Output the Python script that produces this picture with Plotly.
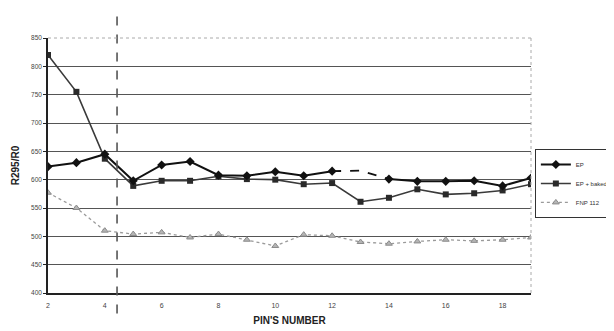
import plotly.graph_objects as go

pins = list(range(2, 20))
ep = [623, 630, 645, 598, 626, 632, 608, 607, 614, 607, 615, 616, 601, 597, 597, 598, 589, 603]
ep_baked = [820, 755, 637, 589, 598, 598, 606, 601, 600, 592, 594, 561, 568, 583, 574, 576, 581, 592]
fnp112 = [577, 550, 510, 504, 507, 498, 504, 494, 483, 503, 501, 490, 487, 491, 494, 492, 494, 498]
x_ticks = [2, 4, 6, 8, 10, 12, 14, 16, 18]
y_ticks = [400, 450, 500, 550, 600, 650, 700, 750, 800, 850]
divider_pin = 4.43

font = "Liberation Sans, Arial, sans-serif"

ep_solid = [v if p != 13 else None for p, v in zip(pins, ep)]
gap_idx = [i for i, p in enumerate(pins) if p in (12, 13, 14)]

fig = go.Figure()
fig.add_trace(go.Scatter(
    x=pins, y=fnp112, name="FNP 112", mode="lines+markers",
    line=dict(color="#9a9a9a", width=1.3, dash="dot"),
    marker=dict(symbol="triangle-up", size=6, color="#b5b5b5", line=dict(color="#8a8a8a", width=1)),
    legendrank=3))
fig.add_trace(go.Scatter(
    x=pins, y=ep_baked, name="EP + baked", mode="lines+markers",
    line=dict(color="#3a3a3a", width=1.6),
    marker=dict(symbol="square", size=6, color="#2a2a2a"), legendrank=2))
fig.add_trace(go.Scatter(
    x=[pins[i] for i in gap_idx], y=[ep[i] for i in gap_idx], mode="lines",
    line=dict(color="#111111", width=1.8, dash="dash"), showlegend=False, hoverinfo="skip"))
fig.add_trace(go.Scatter(
    x=pins, y=ep_solid, name="EP", mode="lines+markers", connectgaps=False,
    line=dict(color="#111111", width=2),
    marker=dict(symbol="diamond", size=7, color="#111111"), legendrank=1))

fig.add_shape(type="line", xref="x", yref="paper", x0=divider_pin, x1=divider_pin,
              y0=-0.08, y1=1.13, line=dict(color="#555555", width=1.6, dash="dash"))
fig.add_shape(type="line", xref="paper", yref="paper", x0=0, x1=1, y0=1, y1=1,
              line=dict(color="#aaaaaa", width=1, dash="dot"))
fig.add_shape(type="line", xref="paper", yref="paper", x0=1, x1=1, y0=0, y1=1,
              line=dict(color="#aaaaaa", width=1, dash="dot"))

fig.update_layout(
    width=606, height=323,
    margin=dict(l=40, r=83, t=30, b=38, autoexpand=False),
    paper_bgcolor="white", plot_bgcolor="white",
    font=dict(family=font, size=7, color="#333333"),
    showlegend=True,
    legend=dict(x=1.008, y=0.565, xanchor="left", yanchor="top",
                bordercolor="#333333", borderwidth=1, bgcolor="white",
                font=dict(size=6, color="#333333"), tracegroupgap=0,
                itemwidth=30),
    xaxis=dict(range=[2, 19], tickvals=x_ticks, showgrid=False, zeroline=False,
               showline=True, linecolor="#222222", linewidth=1.5, automargin=False,
               ticks="", tickfont=dict(size=7, color="#444444"), ticklabelstandoff=5,
               title=dict(text="<b>PIN'S NUMBER</b>", font=dict(size=10, color="#222222"), standoff=9)),
    yaxis=dict(range=[400, 850], tickvals=y_ticks, showgrid=True, gridcolor="#555555", gridwidth=1,
               zeroline=False, showline=True, linecolor="#222222", linewidth=1.5, automargin=False,
               ticks="outside", ticklen=3, tickcolor="#222222",
               tickfont=dict(size=6.5, color="#444444"),
               title=dict(text="<b>R295/R0</b>", font=dict(size=10, color="#222222"), standoff=10)),
)

fig.write_html("out.html")
